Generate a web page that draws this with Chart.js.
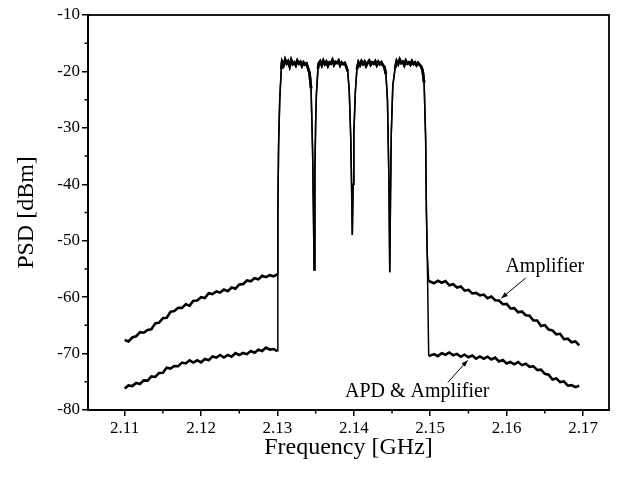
<!DOCTYPE html>
<html>
<head>
<meta charset="utf-8">
<script src="https://cdn.jsdelivr.net/npm/chart.js@4/dist/chart.umd.min.js"></script>
<style>
  body { margin: 0; background: #fff; }
  #wrap { width: 621px; height: 480px; }
</style>
</head>
<body>
<div id="wrap"><canvas id="myChart"></canvas></div>
<script>
// ---- dati ----
const xTicks = [2.11, 2.12, 2.13, 2.14, 2.15, 2.16, 2.17];
const xTickLabels = ['2.11', '2.12', '2.13', '2.14', '2.15', '2.16', '2.17'];
const xMinor = [2.115, 2.125, 2.135, 2.145, 2.155, 2.165];
const yTicks = [-80, -70, -60, -50, -40, -30, -20, -10];
const yTickLabels = ['-80', '-70', '-60', '-50', '-40', '-30', '-20', '-10'];
const yMinor = [-75, -65, -55, -45, -35, -25, -15];

// fuori banda, lato sinistro
const leftFreq = [2.1100, 2.1105, 2.1110, 2.1115, 2.1120, 2.1125, 2.1130, 2.1135, 2.1140, 2.1145,
  2.1150, 2.1155, 2.1160, 2.1165, 2.1170, 2.1175, 2.1180, 2.1185, 2.1190, 2.1195,
  2.1200, 2.1205, 2.1210, 2.1215, 2.1220, 2.1225, 2.1230, 2.1235, 2.1240, 2.1245,
  2.1250, 2.1255, 2.1260, 2.1265, 2.1270, 2.1275, 2.1280, 2.1285, 2.1290, 2.1295, 2.1300];
const ampLeft = [-67.6, -67.85, -67.15, -66.95, -66.2, -66.3, -65.8, -65.7, -64.65, -64.5,
  -63.75, -63.65, -62.6, -62.45, -61.9, -61.9, -61.25, -61.5, -60.65, -60.6,
  -60.0, -60.15, -59.3, -59.45, -59.0, -59.2, -58.65, -58.95, -58.3, -58.5,
  -57.75, -57.7, -57.05, -57.2, -56.65, -56.85, -56.2, -56.45, -56.1, -56.3, -55.95];
const apdLeft = [-76.2, -75.65, -75.75, -75.2, -75.4, -74.75, -74.8, -74.05, -74.15, -73.45,
  -73.4, -72.5, -72.65, -72.2, -72.25, -71.6, -71.75, -71.2, -71.6, -71.2,
  -71.55, -70.95, -71.2, -70.5, -70.7, -70.25, -70.7, -70.25, -70.55, -69.9,
  -70.25, -69.9, -70.1, -69.55, -69.85, -69.3, -69.55, -68.95, -69.3, -69.2, -69.55];

// in banda (4 canali), comune alle due curve
const bandFreq = [2.13005, 2.13015, 2.1303, 2.1305,
  2.1306, 2.1308, 2.1310, 2.1312, 2.1314, 2.1316, 2.1318, 2.1320, 2.1322, 2.1324,
  2.1326, 2.1328, 2.1330, 2.1332, 2.1334, 2.1336, 2.1338,
  2.1340, 2.1342, 2.1344, 2.1346, 2.1347, 2.1348, 2.1349, 2.1350, 2.1351, 2.1353,
  2.1354, 2.1356, 2.1358, 2.1360, 2.1362, 2.1364, 2.1366, 2.1368, 2.1370, 2.1372,
  2.1374, 2.1376, 2.1378, 2.1380, 2.1382, 2.1384, 2.1386, 2.1388, 2.1390,
  2.1392, 2.1394, 2.1396, 2.1397, 2.1398, 2.1399, 2.1400, 2.1402, 2.1404,
  2.1406, 2.1408, 2.1410, 2.1412, 2.1414, 2.1416, 2.1418, 2.1420, 2.1422, 2.1424,
  2.1426, 2.1428, 2.1430, 2.1432, 2.1434, 2.1436, 2.1438, 2.1440,
  2.1442, 2.1444, 2.1446, 2.1447, 2.1448, 2.1449, 2.1451, 2.1454,
  2.1456, 2.1458, 2.1460, 2.1462, 2.1464, 2.1466, 2.1468, 2.1470, 2.1472, 2.1474,
  2.1476, 2.1478, 2.1480, 2.1482, 2.1484, 2.1486, 2.1488,
  2.1490, 2.1492, 2.1494, 2.1495, 2.1496];
const bandPsd = [-45.0, -33.0, -25.0, -19.6,
  -18.3, -18.9, -17.9, -18.6, -18.2, -19.1, -18.0, -18.7, -18.4, -18.9,
  -18.1, -18.6, -18.3, -19.0, -18.4, -18.8, -18.6,
  -19.4, -20.3, -23.0, -34.0, -44.0, -55.2, -38.0, -29.0, -24.0, -19.5,
  -18.6, -18.2, -18.9, -18.1, -18.7, -18.3, -19.0, -18.4, -18.6, -18.0,
  -18.8, -18.3, -18.5, -18.1, -18.9, -18.4, -18.7, -18.5, -19.1,
  -20.0, -23.5, -32.0, -40.0, -49.0, -40.0, -31.0, -23.5, -19.6,
  -18.4, -18.9, -18.2, -18.7, -18.3, -19.0, -18.5, -18.1, -18.8, -18.4,
  -18.6, -18.2, -18.9, -18.3, -18.7, -18.4, -18.9, -19.2,
  -20.5, -25.0, -40.0, -55.6, -42.0, -31.0, -22.5, -19.4,
  -18.2, -18.7, -17.9, -18.5, -18.3, -18.9, -18.1, -18.6, -18.4, -18.8,
  -18.2, -18.7, -18.4, -18.9, -18.5, -18.8, -19.1,
  -19.8, -22.0, -32.0, -45.0, -52.0];

// fuori banda, lato destro
const rightFreq = [2.1498, 2.1505, 2.1510, 2.1515, 2.1520, 2.1525, 2.1530, 2.1535, 2.1540, 2.1545,
  2.1550, 2.1555, 2.1560, 2.1565, 2.1570, 2.1575, 2.1580, 2.1585, 2.1590, 2.1595,
  2.1600, 2.1605, 2.1610, 2.1615, 2.1620, 2.1625, 2.1630, 2.1635, 2.1640, 2.1645,
  2.1650, 2.1655, 2.1660, 2.1665, 2.1670, 2.1675, 2.1680, 2.1685, 2.1690, 2.1695];
const ampRight = [-57.15, -57.55, -57.1, -57.45, -57.15, -57.9, -57.7, -58.3, -58.1, -58.85,
  -58.7, -59.35, -59.25, -59.7, -59.55, -60.2, -59.9, -60.55, -60.6, -61.25,
  -61.2, -62.0, -61.95, -62.7, -62.55, -63.2, -63.3, -64.15, -64.15, -65.1,
  -64.95, -65.75, -65.9, -66.6, -66.5, -67.45, -67.35, -68.0, -67.85, -68.55];
const apdRight = [-70.45, -70.1, -70.45, -69.95, -70.2, -69.8, -70.3, -70.05, -70.55, -70.2,
  -70.65, -70.35, -70.9, -70.5, -70.9, -70.55, -71.05, -70.7, -71.4, -71.15,
  -71.75, -71.5, -71.9, -71.5, -72.05, -71.8, -72.35, -72.25, -72.9, -72.85,
  -73.6, -73.75, -74.6, -74.4, -75.05, -74.95, -75.7, -75.6, -75.95, -75.7];

// etichette con freccia: [testo, x testo, y testo, x coda, y coda, x punta, y punta]
const ampNote = ['Amplifier', 2.1650, -54.6, 2.1625, -56.6, 2.1593, -60.2];
const apdNote = ['APD & Amplifier', 2.1483, -76.8, 2.1523, -75.1, 2.1549, -71.2];

// ---- costruzione serie ----
function toPoints(freqs, vals) {
  return freqs.map((f, i) => ({ x: f, y: vals[i] }));
}
const bandPts = toPoints(bandFreq, bandPsd);
const ampData = toPoints(leftFreq, ampLeft).concat(bandPts, toPoints(rightFreq, ampRight));
const apdData = toPoints(leftFreq, apdLeft).concat(bandPts, toPoints(rightFreq, apdRight));

const FONT = "'Liberation Serif', 'Times New Roman', serif";

// tratti ripidi (fronti e notch) piú sottili del rumore
function segWidth(c) {
  return Math.abs(c.p1.parsed.y - c.p0.parsed.y) > 3 ? 1.5 : 2.6;
}

// cornice, tacche minori e annotazioni
const extras = {
  id: 'extras',
  afterDraw(chart) {
    const c = chart.ctx;
    const a = chart.chartArea;
    const sx = chart.scales.x, sy = chart.scales.y;
    c.save();
    c.strokeStyle = '#000';
    c.lineWidth = 1.8;
    c.strokeRect(a.left, a.top, a.right - a.left, a.bottom - a.top);
    c.lineWidth = 1.5;
    c.beginPath();
    xMinor.forEach(v => {
      const p = sx.getPixelForValue(v);
      c.moveTo(p, a.bottom); c.lineTo(p, a.bottom + 3.5);
    });
    yMinor.forEach(v => {
      const p = sy.getPixelForValue(v);
      c.moveTo(a.left, p); c.lineTo(a.left - 3.5, p);
    });
    c.stroke();

    c.fillStyle = '#000';
    c.font = '20px ' + FONT;
    c.textAlign = 'center';
    c.textBaseline = 'middle';
    [ampNote, apdNote].forEach(n => {
      c.fillText(n[0], sx.getPixelForValue(n[1]), sy.getPixelForValue(n[2]));
      const x0 = sx.getPixelForValue(n[3]), y0 = sy.getPixelForValue(n[4]);
      const x1 = sx.getPixelForValue(n[5]), y1 = sy.getPixelForValue(n[6]);
      c.lineWidth = 1;
      c.beginPath(); c.moveTo(x0, y0); c.lineTo(x1, y1); c.stroke();
      const ang = Math.atan2(y1 - y0, x1 - x0);
      c.beginPath();
      c.moveTo(x1, y1);
      c.lineTo(x1 - 7 * Math.cos(ang - 0.35), y1 - 7 * Math.sin(ang - 0.35));
      c.lineTo(x1 - 7 * Math.cos(ang + 0.35), y1 - 7 * Math.sin(ang + 0.35));
      c.closePath(); c.fill();
    });
    c.restore();
  }
};

const ctx = document.getElementById('myChart').getContext('2d');
const myChart = new Chart(ctx, {
  type: 'line',
  data: {
    datasets: [{
      label: 'Amplifier',
      data: ampData,
      borderColor: '#000',
      borderWidth: 2.6,
      segment: { borderWidth: segWidth },
      pointRadius: 0,
      tension: 0
    }, {
      label: 'APD & Amplifier',
      data: apdData,
      borderColor: '#000',
      borderWidth: 2.6,
      segment: { borderWidth: segWidth },
      pointRadius: 0,
      tension: 0
    }]
  },
  options: {
    responsive: true,
    maintainAspectRatio: false,
    animation: false,
    layout: { padding: { left: 0, top: 15, right: 12, bottom: 0 } },
    plugins: { legend: { display: false }, tooltip: { enabled: false } },
    scales: {
      x: {
        type: 'linear',
        min: 2.1052,
        max: 2.1734,
        afterBuildTicks: s => { s.ticks = xTicks.map(v => ({ value: v })); },
        afterFit: s => { s.height = 70; },
        ticks: {
          callback: (v, i) => xTickLabels[i],
          color: '#000',
          font: { family: FONT, size: 17 },
          padding: 2,
          maxRotation: 0
        },
        grid: { drawOnChartArea: false, color: '#000', lineWidth: 1.5, tickLength: 6 },
        border: { color: '#000', width: 2 },
        title: {
          display: true,
          text: 'Frequency [GHz]',
          color: '#000',
          font: { family: FONT, size: 24 },
          padding: { top: 0, bottom: 18 }
        }
      },
      y: {
        min: -80,
        max: -10,
        afterBuildTicks: s => { s.ticks = yTicks.map(v => ({ value: v })); },
        afterFit: s => { s.width = 88; },
        ticks: {
          callback: (v, i) => yTickLabels[i],
          color: '#000',
          font: { family: FONT, size: 17 },
          padding: 2
        },
        grid: { drawOnChartArea: false, color: '#000', lineWidth: 1.5, tickLength: 6 },
        border: { color: '#000', width: 2 },
        title: {
          display: true,
          text: 'PSD [dBm]',
          color: '#000',
          font: { family: FONT, size: 24 },
          padding: { top: 12, bottom: 0 }
        }
      }
    }
  },
  plugins: [extras]
});
</script>
</body>
</html>
